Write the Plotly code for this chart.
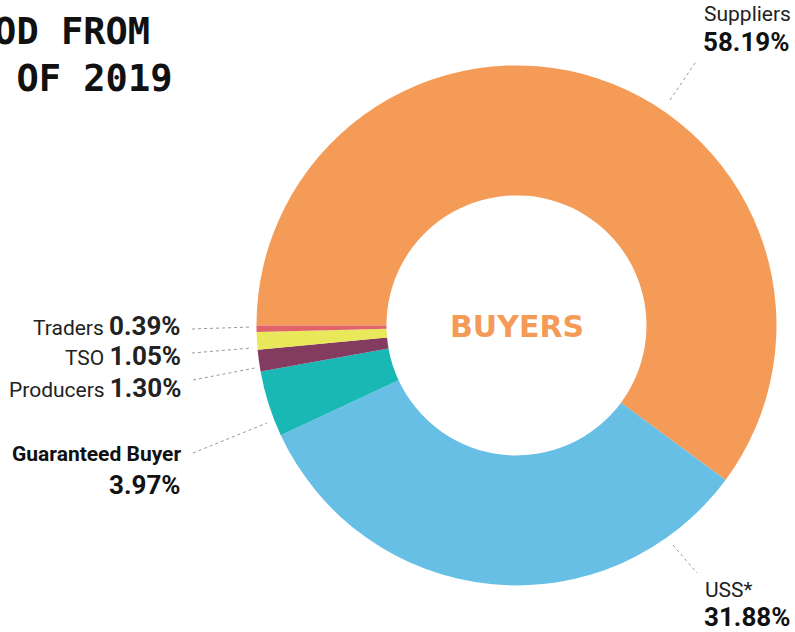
import plotly.graph_objects as go

# ---- data ----
labels = ["Suppliers", "USS*", "Guaranteed Buyer", "Producers", "TSO", "Traders"]
values = [58.19, 31.88, 3.97, 1.30, 1.05, 0.39]
colors = ["#F59B58", "#67BFE5", "#19B8B5", "#833B5F", "#E9E85B", "#E0636A"]
title_lines = ["PERIOD FROM", "JANUARY TO DECEMBER OF 2019"]
center_label = "BUYERS"

W, H = 795, 632


def px(x):
    return x / W


def py(y):
    return 1 - y / H


fig = go.Figure()
fig.add_trace(go.Pie(
    labels=labels,
    values=values,
    marker=dict(colors=colors, line=dict(color="white", width=0)),
    hole=0.5,
    sort=False,
    direction="clockwise",
    rotation=270,
    textinfo="none",
    hoverinfo="label+value",
    showlegend=False,
    domain=dict(x=[0.3226, 0.9767], y=[0.0737, 0.8965]),
))

REG = "Roboto"
pct = {l: f"{v:.2f}%" for l, v in zip(labels, values)}

ann = []
# title (clipped at left edge as in the reference)
ann.append(dict(text="<b>" + title_lines[0] + "</b>", x=px(152), y=py(31), xanchor="right", yanchor="middle",
                font=dict(family="DejaVu Sans Mono", size=37, color="#111")))
ann.append(dict(text="<b>" + title_lines[1] + "</b>", x=px(174), y=py(78), xanchor="right", yanchor="middle",
                font=dict(family="DejaVu Sans Mono", size=37, color="#111")))
# center
ann.append(dict(text="<b>" + center_label + "</b>", x=px(516.5), y=py(326), xanchor="center", yanchor="middle",
                font=dict(family="DejaVu Sans", size=30, color=colors[0])))

# right labels (left aligned)
ann.append(dict(text=labels[0], x=px(702), y=py(14), xanchor="left", yanchor="middle",
                font=dict(family=REG, size=21, color="#222")))
ann.append(dict(text="<b>" + pct["Suppliers"] + "</b>", x=px(701), y=py(42), xanchor="left", yanchor="middle",
                font=dict(family=REG, size=26, color="#111")))
ann.append(dict(text=labels[1], x=px(703), y=py(590), xanchor="left", yanchor="middle",
                font=dict(family=REG, size=21, color="#222")))
ann.append(dict(text="<b>" + pct["USS*"] + "</b>", x=px(702), y=py(617), xanchor="left", yanchor="middle",
                font=dict(family=REG, size=26, color="#111")))

# left labels (right aligned)
for lab, yc in [("Traders", 326), ("TSO", 356), ("Producers", 388)]:
    ann.append(dict(text=f"{lab} <span style='font-size:26px'><b>{pct[lab]}</b></span>",
                    x=px(183), y=py(yc), xanchor="right", yanchor="middle",
                    font=dict(family=REG, size=21, color="#222")))
ann.append(dict(text="<b>" + labels[2] + "</b>", x=px(183), y=py(454), xanchor="right", yanchor="middle",
                font=dict(family=REG, size=21, color="#111")))
ann.append(dict(text="<b>" + pct["Guaranteed Buyer"] + "</b>", x=px(183), y=py(485), xanchor="right", yanchor="middle",
                font=dict(family=REG, size=26, color="#111")))

for a in ann:
    a.update(xref="paper", yref="paper", showarrow=False)

# leader lines (layout decoration)
leaders = [((670, 100), (697, 60)),
           ((673, 545), (697, 573)),
           ((192, 329), (252, 327)),
           ((192, 353), (252, 348)),
           ((193, 380), (255, 368)),
           ((193, 453), (267, 423))]
shapes = [dict(type="line", xref="paper", yref="paper", x0=px(a[0]), y0=py(a[1]), x1=px(b[0]), y1=py(b[1]),
               line=dict(color="#999", width=1, dash="dot")) for a, b in leaders]

fig.update_layout(
    width=W, height=H,
    margin=dict(l=0, r=0, t=0, b=0),
    paper_bgcolor="white", plot_bgcolor="white",
    annotations=ann, shapes=shapes,
)
fig.write_html("out.html", config={"displayModeBar": False},
               post_script="document.body.style.margin='0';")
